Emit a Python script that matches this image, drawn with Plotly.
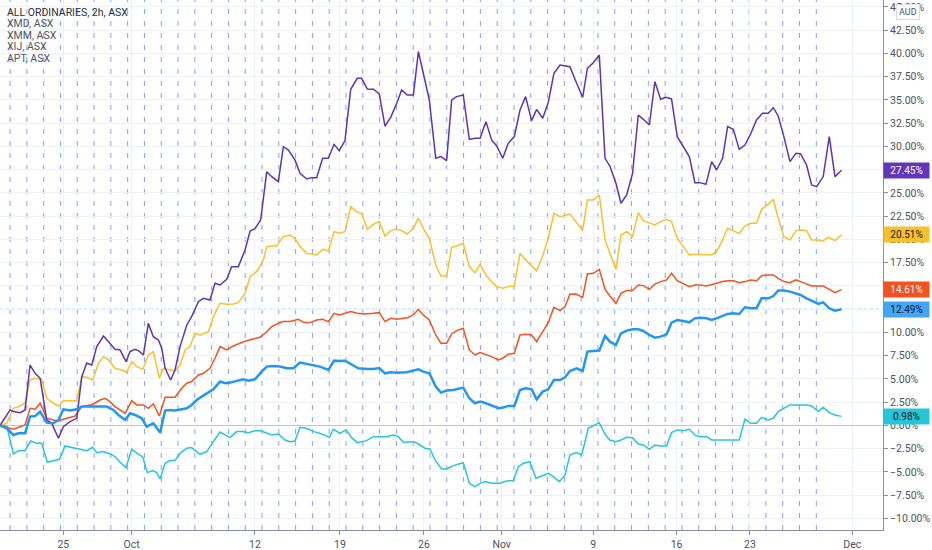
import plotly.graph_objects as go

# ===== DATA =====
# x = trading-day index (0 = first session break on the chart), y = % change since start
all_ords = [(-0.60, 0), (-0.20, -0.30), (0.20, -1.02), (0.50, -0.84), (0.89, -0.84), (1.19, 0.95), (1.49, 1.02),
            (1.79, 1.49), (2.18, 0.30), (2.58, 0.23), (2.88, 0.59), (3.17, 1.74), (3.57, 1.60), (3.97, 1.74),
            (4.27, 2.03), (4.66, 2.03), (5.06, 2.10), (5.46, 2.03), (5.75, 2.03), (6.15, 1.67), (6.45, 1.13),
            (6.85, 0.59), (7.14, 1.31), (7.44, 1.13), (7.84, 0.77), (8.13, -0.13), (8.53, 0.23), (8.93, -0.77),
            (9.23, 1.60), (9.52, 1.67), (9.82, 1.60), (10.22, 1.74), (10.52, 1.85), (10.81, 2.21), (11.11, 2.74),
            (11.41, 3.10), (11.71, 3.46), (12.10, 3.89), (12.50, 4.72), (12.80, 4.54), (13.10, 4.61), (13.49, 4.82),
            (13.89, 4.96), (14.19, 4.82), (14.58, 4.96), (14.98, 5.79), (15.28, 6.33), (15.67, 6.40), (16.07, 6.33),
            (16.47, 6.15), (16.87, 6.15), (17.26, 6.76), (17.66, 6.61), (18.06, 6.50), (18.45, 6.33), (18.95, 5.97),
            (19.29, 6.97), (19.60, 6.94), (19.94, 6.97), (20.28, 6.61), (20.73, 6.15), (21.27, 6.08), (21.63, 6.08),
            (21.98, 6.18), (22.32, 5.61), (22.66, 5.72), (23.02, 5.68), (23.61, 5.72), (24.01, 5.86), (24.31, 6.04),
            (24.60, 5.79), (24.96, 5.61), (25.34, 4.18), (25.65, 3.53), (25.99, 3.75), (26.39, 3.82), (26.98, 4.07),
            (27.34, 2.92), (27.68, 2.39), (27.98, 2.56), (28.33, 2.39), (28.67, 2.13), (29.07, 1.85), (29.37, 1.92),
            (29.66, 2.10), (30.02, 2.10), (30.36, 3.82), (30.69, 4.00), (31.05, 3.89), (31.35, 2.81), (31.71, 3.64),
            (32.04, 3.89), (32.38, 4.89), (32.74, 4.89), (33.04, 5.18), (33.33, 5.86), (33.73, 6.15), (34.09, 5.86),
            (34.37, 7.94), (34.72, 8.01), (35.08, 8.05), (35.42, 9.62), (35.71, 9.01), (36.07, 8.66), (36.37, 9.91),
            (36.71, 10.20), (37.06, 10.34), (37.40, 10.34), (37.70, 10.16), (38.06, 9.73), (38.39, 9.44),
            (38.73, 9.55), (39.09, 9.80), (39.38, 11.06), (39.72, 11.34), (40.08, 11.24), (40.44, 11.09),
            (40.77, 11.52), (41.07, 11.59), (41.47, 11.52), (41.77, 11.34), (42.06, 11.52), (42.42, 11.77),
            (42.72, 11.99), (43.06, 12.06), (43.41, 11.99), (43.75, 12.71), (44.09, 12.60), (44.44, 12.60),
            (44.74, 13.67), (45.14, 13.67), (45.44, 13.92), (45.73, 14.50), (46.07, 14.50), (46.43, 14.39),
            (46.79, 14.21), (47.06, 14.03), (47.42, 13.67), (47.72, 13.39), (48.12, 13.07), (48.41, 13.24),
            (48.77, 12.60), (49.11, 12.35), (49.50, 12.49)]

xmd = [(-0.60, 0), (-0.20, -0.23), (0.20, -0.41), (0.60, -0.13), (0.89, 0.05), (1.19, 1.85), (1.49, 1.74),
       (1.79, 2.39), (2.18, 0.77), (2.58, 0.59), (2.88, 0.48), (3.17, 0.66), (3.57, 0.84), (3.87, 1.02),
       (4.27, 2.03), (4.56, 2.10), (4.96, 2.31), (5.36, 2.74), (5.65, 2.92), (5.95, 2.56), (6.25, 2.03),
       (6.55, 1.67), (6.85, 1.31), (7.24, 2.67), (7.54, 2.21), (7.94, 2.21), (8.23, 1.85), (8.53, 2.31),
       (8.89, 1.02), (9.23, 3.03), (9.52, 3.03), (9.82, 3.03), (10.22, 4.00), (10.52, 4.54), (10.81, 4.72),
       (11.21, 5.43), (11.51, 5.61), (11.90, 6.15), (12.20, 7.23), (12.50, 8.48), (12.90, 8.12), (13.29, 8.55),
       (13.69, 8.84), (14.09, 9.12), (14.48, 9.30), (14.88, 9.48), (15.18, 9.91), (15.58, 10.63), (15.97, 10.99),
       (16.27, 11.17), (16.67, 11.17), (16.87, 11.27), (17.16, 11.42), (17.50, 11.06), (17.86, 11.06),
       (18.25, 11.34), (18.61, 11.42), (18.95, 11.17), (19.29, 12.06), (19.60, 11.88), (19.94, 12.06),
       (20.28, 12.24), (20.67, 12.06), (21.13, 11.99), (21.63, 12.06), (21.98, 12.13), (22.32, 11.17),
       (22.66, 11.52), (23.02, 11.42), (23.31, 11.52), (23.65, 11.59), (24.01, 11.88), (24.31, 12.49),
       (24.60, 11.88), (24.96, 11.34), (25.34, 9.73), (25.65, 8.84), (25.99, 8.84), (26.29, 9.84), (26.59, 10.20),
       (26.98, 10.45), (27.34, 8.12), (27.68, 7.58), (27.98, 7.83), (28.33, 7.65), (28.67, 7.40), (29.07, 7.05),
       (29.33, 7.23), (29.66, 7.65), (30.02, 7.76), (30.36, 9.73), (30.69, 9.80), (31.05, 9.73), (31.35, 9.01),
       (31.71, 10.09), (32.04, 11.06), (32.38, 12.71), (32.74, 12.35), (33.04, 12.78), (33.33, 14.10),
       (33.69, 14.14), (34.09, 13.78), (34.37, 16.29), (34.72, 16.36), (35.08, 16.79), (35.42, 14.64),
       (35.71, 13.92), (36.07, 13.14), (36.37, 14.21), (36.71, 14.50), (37.06, 14.50), (37.40, 15.11),
       (37.70, 15.04), (38.06, 14.64), (38.39, 15.21), (38.73, 15.47), (39.09, 15.65), (39.38, 16.36),
       (39.72, 15.57), (40.08, 15.21), (40.44, 14.93), (40.77, 15.11), (41.07, 15.11), (41.47, 15.00),
       (41.77, 15.11), (42.06, 15.29), (42.42, 15.47), (42.72, 15.57), (43.06, 15.57), (43.41, 15.36),
       (43.75, 15.47), (44.09, 15.65), (44.44, 15.57), (44.74, 16.11), (45.14, 16.18), (45.44, 16.18),
       (45.73, 15.82), (46.07, 15.47), (46.43, 15.36), (46.79, 15.65), (47.06, 15.47), (47.42, 15.21),
       (47.72, 15.00), (48.02, 15.00), (48.41, 15.00), (48.77, 14.64), (49.11, 14.28), (49.50, 14.61)]

xmm = [(-0.60, 0), (-0.20, -0.05), (0.20, -3.06), (0.50, -2.71), (0.89, -2.71), (1.23, -1.67), (1.59, -1.92),
       (1.88, -1.92), (2.22, -3.96), (2.58, -3.78), (2.94, -3.64), (3.27, -2.20), (3.67, -2.35), (4.17, -2.53),
       (4.56, -2.71), (4.92, -2.35), (5.16, -2.92), (5.56, -2.81), (5.95, -3.06), (6.25, -3.35), (6.55, -3.96),
       (6.90, -4.53), (7.24, -2.56), (7.58, -2.99), (7.90, -3.42), (8.17, -5.07), (8.49, -4.86), (8.73, -5.07),
       (8.93, -5.75), (9.23, -4.07), (9.52, -3.78), (9.82, -3.78), (10.12, -2.99), (10.52, -2.45),
       (10.81, -2.38), (11.31, -3.10), (11.71, -2.81), (12.10, -1.74), (12.50, -0.70), (12.80, -1.02),
       (13.10, -1.31), (13.49, -0.66), (13.85, -0.66), (14.19, -0.77), (14.58, -0.56), (14.92, -0.56),
       (15.28, -0.84), (15.58, -1.02), (15.97, -0.91), (16.37, -1.56), (16.67, -1.74), (16.96, -1.67),
       (17.26, -0.20), (17.66, -0.30), (18.10, -0.66), (18.55, -0.91), (19.01, -1.27), (19.25, -0.41),
       (19.64, -0.84), (20.00, -0.48), (20.34, -1.31), (20.67, -1.85), (21.23, -1.63), (21.63, -1.20),
       (22.02, -1.20), (22.42, -1.20), (22.82, -1.02), (23.11, -1.20), (23.41, -1.81), (24.05, -1.74),
       (24.40, -2.10), (24.70, -2.45), (25.00, -2.53), (25.30, -3.71), (25.69, -4.68), (25.99, -4.68),
       (26.39, -4.32), (26.98, -4.00), (27.34, -6.22), (27.68, -6.58), (27.98, -6.22), (28.27, -6.04),
       (28.67, -6.22), (29.17, -6.22), (29.56, -5.97), (29.96, -5.93), (30.26, -4.43), (30.56, -4.07),
       (30.95, -3.89), (31.31, -5.68), (31.65, -5.43), (32.04, -5.14), (32.34, -5.50), (32.70, -6.04),
       (33.04, -5.32), (33.33, -3.17), (33.69, -2.92), (34.03, -3.17), (34.42, -0.30), (34.72, -0.06),
       (35.08, 0.30), (35.42, -0.95), (35.71, -1.56), (36.07, -1.74), (36.37, -1.56), (36.71, -1.27),
       (37.06, -1.31), (37.40, -1.99), (37.70, -2.10), (38.06, -2.56), (38.39, -2.10), (38.73, -2.21),
       (39.09, -2.21), (39.38, -0.77), (39.72, -0.48), (40.08, -0.56), (40.44, -0.41), (40.77, -1.02),
       (41.07, -1.20), (41.47, -1.20), (41.77, -1.56), (42.06, -1.56), (42.72, -1.56), (43.41, -1.56),
       (43.75, 0.67), (44.09, 0.23), (44.44, 0.23), (44.74, 0.88), (45.14, 0.59), (45.44, 0.77), (45.73, 1.49),
       (46.07, 1.85), (46.43, 2.21), (46.79, 2.21), (47.42, 2.21), (47.72, 2.10), (48.12, 1.49), (48.41, 1.96),
       (48.77, 1.38), (49.11, 1.13), (49.50, 0.98)]

xij = [(-0.60, 0), (-0.20, 0.23), (0.20, 1.85), (0.60, 2.10), (0.89, 2.39), (1.19, 4.89), (1.49, 5.07),
       (1.88, 4.96), (2.18, 2.92), (2.58, 2.39), (2.88, 2.10), (3.17, 2.67), (3.57, 2.67), (3.97, 2.67),
       (4.27, 5.25), (4.56, 5.18), (4.92, 4.89), (5.26, 6.69), (5.56, 7.40), (5.85, 7.05), (6.25, 6.15),
       (6.65, 5.97), (6.94, 5.72), (7.24, 6.86), (7.54, 6.33), (7.90, 6.04), (8.23, 7.58), (8.53, 7.94),
       (8.89, 5.07), (9.13, 6.15), (9.52, 5.97), (9.82, 5.90), (10.12, 6.50), (10.42, 8.12), (10.71, 8.48),
       (11.01, 9.91), (11.31, 9.73), (11.81, 10.09), (12.10, 11.70), (12.50, 13.14), (12.90, 13.03),
       (13.29, 13.07), (13.59, 13.21), (13.99, 14.21), (14.29, 16.00), (14.68, 16.54), (15.08, 17.80),
       (15.28, 19.23), (15.58, 19.30), (15.87, 19.30), (16.27, 20.30), (16.67, 20.48), (16.96, 20.12),
       (17.26, 19.23), (17.66, 18.51), (18.25, 18.33), (18.61, 18.94), (18.95, 18.80), (19.29, 20.84),
       (19.60, 20.66), (19.94, 20.84), (20.28, 23.53), (20.63, 22.99), (20.93, 22.81), (21.27, 21.09),
       (21.63, 21.63), (21.98, 21.92), (22.32, 20.38), (22.66, 20.95), (23.02, 21.13), (23.31, 20.95),
       (23.65, 20.59), (24.01, 21.20), (24.31, 22.28), (24.60, 21.20), (24.96, 20.12), (25.34, 17.26),
       (25.65, 16.07), (25.99, 16.07), (26.29, 19.16), (26.59, 19.30), (26.98, 19.59), (27.34, 17.08),
       (27.68, 16.43), (27.98, 17.33), (28.33, 16.18), (28.67, 15.46), (28.97, 14.93), (29.33, 14.75),
       (29.66, 14.93), (30.02, 15.00), (30.36, 18.51), (30.69, 17.80), (31.05, 17.15), (31.35, 16.65),
       (31.71, 18.23), (32.04, 20.12), (32.38, 22.81), (32.74, 22.45), (33.33, 22.74), (33.73, 21.81),
       (34.09, 20.95), (34.37, 24.25), (34.72, 24.25), (35.08, 24.78), (35.42, 19.95), (35.71, 18.51),
       (36.07, 16.79), (36.37, 20.48), (36.71, 20.84), (37.06, 20.30), (37.40, 22.88), (37.70, 22.02),
       (38.06, 21.74), (38.39, 21.56), (38.73, 21.92), (39.09, 22.17), (39.38, 21.92), (39.72, 20.12),
       (40.08, 19.23), (40.44, 18.33), (40.77, 18.40), (41.47, 18.40), (41.77, 18.33), (42.06, 18.69),
       (42.42, 19.95), (42.72, 21.20), (43.06, 20.95), (43.41, 20.66), (43.75, 21.45), (44.09, 21.74),
       (44.44, 21.74), (44.74, 23.24), (45.14, 23.78), (45.44, 24.32), (45.73, 22.28), (46.07, 20.30),
       (46.43, 19.95), (46.79, 20.95), (47.06, 21.02), (47.42, 20.95), (47.72, 19.95), (48.12, 19.95),
       (48.41, 19.84), (48.71, 20.23), (49.11, 19.88), (49.50, 20.51)]

apt = [(-0.60, 0), (0.00, 1.67), (0.20, 1.49), (0.60, 1.38), (0.89, 1.67), (1.19, 6.50), (1.49, 5.61),
       (1.79, 5.07), (2.18, 0.59), (2.48, 0.23), (2.88, -1.38), (3.17, -0.13), (3.57, 0.41), (3.97, 0.77),
       (4.27, 5.25), (4.56, 6.69), (4.86, 6.50), (5.16, 8.48), (5.56, 9.62), (5.85, 9.01), (6.25, 8.19),
       (6.55, 8.12), (6.90, 6.86), (7.14, 7.94), (7.44, 8.19), (7.64, 8.05), (7.94, 7.58), (8.23, 10.98),
       (8.53, 9.55), (8.83, 9.19), (9.03, 8.30), (9.23, 6.15), (9.56, 4.89), (9.82, 5.97), (10.12, 8.48),
       (10.52, 10.81), (10.81, 11.70), (11.21, 13.31), (11.51, 13.67), (11.90, 13.49), (12.20, 15.29),
       (12.50, 15.11), (12.90, 15.72), (13.19, 17.08), (13.59, 17.08), (13.99, 18.87), (14.29, 20.91),
       (14.58, 21.16), (14.92, 22.10), (15.28, 27.29), (15.58, 26.75), (15.97, 26.22), (16.27, 29.98),
       (16.57, 29.62), (16.96, 28.55), (17.26, 27.11), (17.66, 26.50), (17.96, 26.65), (18.25, 26.65),
       (18.61, 28.73), (18.95, 28.73), (19.29, 30.23), (19.60, 29.55), (19.94, 30.63), (20.28, 36.15),
       (20.67, 37.33), (20.93, 37.33), (21.27, 36.18), (21.63, 36.15), (21.98, 35.64), (22.32, 32.20),
       (22.66, 33.13), (23.02, 34.64), (23.31, 36.07), (23.65, 35.54), (24.01, 35.54), (24.31, 40.20),
       (24.60, 37.87), (24.96, 35.00), (25.34, 28.73), (25.65, 28.91), (25.99, 28.48), (26.29, 35.00),
       (26.59, 35.36), (26.98, 35.54), (27.34, 30.77), (27.68, 30.88), (27.98, 30.88), (28.33, 32.67),
       (28.67, 30.70), (28.97, 30.05), (29.33, 28.73), (29.66, 30.34), (30.02, 31.06), (30.36, 33.92),
       (30.69, 35.36), (31.05, 32.78), (31.35, 33.99), (31.71, 33.03), (32.04, 34.71), (32.38, 37.87),
       (32.74, 38.76), (33.33, 38.58), (33.73, 36.79), (34.09, 35.29), (34.37, 38.40), (34.72, 39.01),
       (35.08, 39.84), (35.42, 28.73), (35.71, 27.90), (36.07, 26.04), (36.37, 23.89), (36.71, 24.78),
       (37.06, 27.11), (37.40, 33.39), (37.70, 32.92), (38.06, 32.31), (38.39, 36.97), (38.73, 35.07),
       (39.05, 35.29), (39.38, 35.11), (39.72, 31.06), (40.08, 29.98), (40.44, 28.91), (40.77, 26.11),
       (41.07, 26.11), (41.43, 25.93), (41.77, 28.37), (42.06, 27.47), (42.42, 28.73), (42.72, 32.13),
       (43.06, 31.85), (43.41, 29.69), (43.75, 30.16), (44.09, 31.34), (44.44, 32.85), (44.80, 33.57),
       (45.14, 33.57), (45.44, 34.17), (45.73, 33.28), (46.07, 31.06), (46.43, 28.37), (46.79, 29.26),
       (47.06, 29.23), (47.42, 28.01), (47.72, 25.86), (48.02, 25.68), (48.41, 26.76), (48.77, 31.06),
       (49.11, 26.76), (49.50, 27.45)]

# session breaks (one per trading day) and date ticks, in trading-day units
session_breaks = list(range(49))
tick_days = [3.17, 7.24, 14.58, 19.64, 24.64, 29.27, 34.72, 39.68, 44.05, 50.14]
tick_text = ["25", "Oct", "12", "19", "26", "Nov", "9", "16", "23", "Dec"]

legend_names = ["ALL ORDINARIES, 2h, ASX", "XMD, ASX", "XMM, ASX", "XIJ, ASX", "APT, ASX"]

# ===== STYLE =====
# (data, line color, line width, label bg, label text color)
series = [
    (xmm, "#26C6DA", 1.5, "#26C6DA", "#131722"),
    (xmd, "#F4511E", 1.5, "#F4511E", "white"),
    (xij, "#F9C02C", 1.5, "#F9C02C", "#131722"),
    (apt, "#5E35B1", 1.5, "#6236B8", "white"),
    (all_ords, "#2196F3", 2.5, "#42A5F5", "#131722"),
]

FONT = "Roboto, Arial, sans-serif"
TXT = "#4c525e"
GRID = "#eef1f6"
AXIS = "#8c8f99"

fig = go.Figure()

for data, color, width, _, _ in series:
    fig.add_trace(go.Scatter(
        x=[p[0] for p in data],
        y=[p[1] for p in data],
        mode="lines",
        line=dict(color=color, width=width),
        showlegend=False,
        hoverinfo="skip",
    ))

# session break lines
for d in session_breaks:
    fig.add_vline(x=d, line=dict(color="rgba(41,98,255,0.6)", width=1, dash="5px,7px"), layer="below")

# last price line of main symbol
fig.add_hline(y=all_ords[-1][1], line=dict(color="#2196F3", width=1, dash="dot"), layer="below")

# last-value labels on the price scale
for data, _, _, bg, fg in series:
    fig.add_annotation(
        xref="paper", x=1, xanchor="left", xshift=0,
        yref="y", y=data[-1][1], yanchor="middle",
        text=f"{data[-1][1]:.2f}%", showarrow=False,
        bgcolor=bg, font=dict(color=fg, size=10, family=FONT),
        width=43, height=13, borderpad=1, align="center",
    )

# series names, top left
for i, name in enumerate(legend_names):
    fig.add_annotation(
        xref="paper", x=0, xanchor="left", xshift=5,
        yref="paper", y=1, yanchor="middle", yshift=-12 - i * 11.6,
        text=name, showarrow=False,
        font=dict(color="#2a2e39" if i == 0 else "#50535e", size=10.5, family=FONT),
    )

# currency badge
fig.add_annotation(
    xref="paper", x=1, xanchor="left", xshift=13,
    yref="paper", y=1, yanchor="top", yshift=-4,
    text="AUD", showarrow=False,
    font=dict(color="#50535e", size=9, family=FONT),
    bgcolor="white", bordercolor="#d9dce3", borderwidth=1, borderpad=2,
)

fig.update_layout(
    width=932, height=550,
    margin=dict(l=0, r=49, t=0, b=20),
    plot_bgcolor="white", paper_bgcolor="white",
    font=dict(family=FONT, size=10.5, color=TXT),
    xaxis=dict(
        range=[-0.6, 51.97],
        tickvals=tick_days, ticktext=tick_text,
        showgrid=True, gridcolor=GRID, gridwidth=1,
        zeroline=False,
        showline=True, linecolor=AXIS, linewidth=1,
        ticks="outside", ticklen=4, tickcolor=AXIS,
        tickfont=dict(size=10.5, color=TXT),
    ),
    yaxis=dict(
        side="right",
        range=[-11.24, 45.75],
        tick0=0, dtick=2.5,
        tickformat=".2f", ticksuffix="%",
        showgrid=True, gridcolor=GRID, gridwidth=1,
        zeroline=True, zerolinecolor="#c3c6ce", zerolinewidth=1,
        showline=True, linecolor=AXIS, linewidth=1,
        ticks="outside", ticklen=4, tickcolor=AXIS,
        tickfont=dict(size=10.5, color=TXT),
    ),
)

# page body has a default 8px margin; remove it so the figure fills the window
fig.write_html("out.html", config={"displayModeBar": False},
               post_script="document.body.style.margin='0';document.body.style.overflow='hidden';")
